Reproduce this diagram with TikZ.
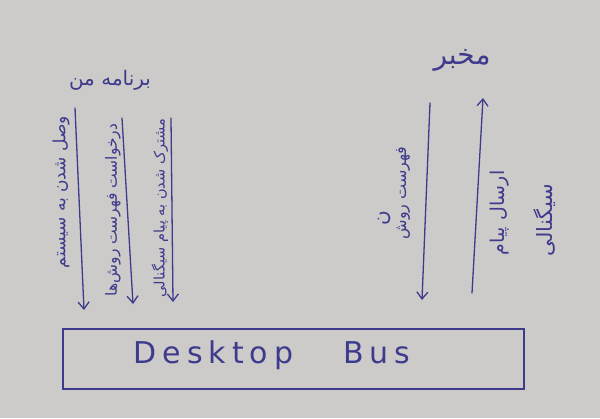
\documentclass[tikz,border=0pt]{standalone}
\usepackage{fontspec}
\usetikzlibrary{arrows.meta}
\TeXXeTstate=1
\newfontfamily\fafont[Script=Arabic]{DejaVu Sans}
\newfontfamily\busfont[LetterSpace=20]{DejaVu Sans}
\definecolor{ink}{RGB}{62,58,140}
\definecolor{paper}{RGB}{204,203,201}
\tikzset{
  pen/.style={draw=ink, line width=1.3pt, line cap=round},
  flow/.style={pen, -{Straight Barb[length=7pt,width=11pt,line width=1.3pt]}},
  fatext/.style={text=ink, font=\fafont\fontsize{13}{15}\selectfont, inner sep=0pt},
  vtext/.style={fatext, rotate=90},
  fs/.style={font=\fafont\fontsize{#1}{#1}\selectfont},
}
\begin{document}
\begin{tikzpicture}[x=1pt,y=-1pt]
\fill[paper] (0,0) rectangle (600,418);
\useasboundingbox (0,0) rectangle (600,418);

% bus box
\node[pen, minimum width=461pt, minimum height=60pt, inner sep=0pt] (bus) at (293.5,359) {};
\node[text=ink, font=\busfont\fontsize{30}{32}\selectfont, inner sep=0pt] (bustext) at (272,355) {Desktop\hspace{50pt}Bus};

% actors
\node[fatext, fs=20] (prog) at (110,80) {\beginR برنامه من\endR};
\node[fatext, fs=28] (svc) at (462,60) {\beginR مخبر\endR};

% left arrows
\coordinate (a1s) at (75,108);
\coordinate (a1e) at (84,310);
\coordinate (a2s) at (122,118);
\coordinate (a2e) at (133,304);
\coordinate (a3s) at (171,118);
\coordinate (a3e) at (173,302);
\draw[flow] (a1s) -- (a1e);
\draw[flow] (a2s) -- (a2e);
\draw[flow] (a3s) -- (a3e);
\node[vtext, fs=17] (t1) at (61,192) {\beginR وصل شدن به سیستم\endR};
\node[vtext, fs=15.5] (t2) at (113,210) {\beginR درخواست فهرست روش^^^^200cها\endR};
\node[vtext, fs=14.5] (t3) at (160,208) {\beginR مشترک شدن به پیام سیگنالی\endR};

% right arrows
\coordinate (b1s) at (430,103);
\coordinate (b1e) at (422,300);
\coordinate (b2s) at (472,293);
\coordinate (b2e) at (483,98);
\draw[flow] (b1s) -- (b1e);
\draw[flow] (b2s) -- (b2e);
\node[vtext, fs=16] (t4) at (403,193) {\beginR فهرست روش\endR};
\node[vtext, fs=20] (t4b) at (384,218) {\beginR ن\endR};
\node[vtext, fs=19] (t5) at (500,213) {\beginR ارسال پیام\endR};
\node[vtext, fs=21] (t6) at (545,220) {\beginR سیگنالی\endR};
\end{tikzpicture}
\end{document}
